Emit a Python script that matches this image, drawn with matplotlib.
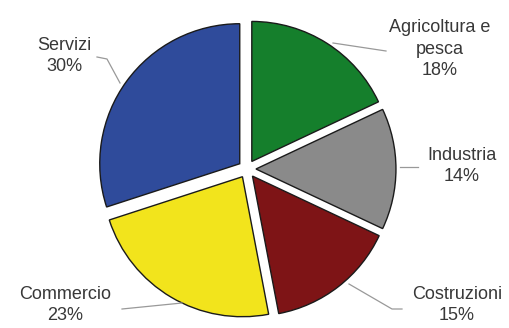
import matplotlib.pyplot as plt

labels = ["Agricoltura e\npesca", "Industria", "Costruzioni", "Commercio", "Servizi"]
values = [18, 14, 15, 23, 30]
colors = ["#157F2C", "#8A8A8A", "#7E1416", "#F2E41C", "#2F4B9B"]

W, H = 510, 328
cx, cy, R = 247, 169, 140

fig = plt.figure(figsize=(W / 100, H / 100), dpi=100)
ax = fig.add_axes([0, 0, 1, 1])

ax.pie(values, colors=colors, startangle=90, counterclock=False,
       explode=[0.064] * len(values), radius=1.0,
       wedgeprops=dict(edgecolor="#1a1a1a", linewidth=1.0))

ax.set_xlim(-cx / R, (W - cx) / R)
ax.set_ylim(-(H - cy) / R, cy / R)
ax.set_aspect("equal")
ax.axis("off")

def px(x, y):
    return ((x - cx) / R, (cy - y) / R)

text_pos = [(440, 49), (462, 166), (457, 305), (65, 305), (64, 56)]
for lab, v, (x, y) in zip(labels, values, text_pos):
    ax.text(*px(x, y), f"{lab}\n{v}%", ha="center", va="center",
            fontsize=13, family="Liberation Sans", color="#383838",
            linespacing=1.38)

leaders = [
    [(333, 43), (386, 51)],
    [(400, 167), (418, 167)],
    [(349, 284), (392, 309), (402, 309)],
    [(122, 309), (182, 303)],
    [(97, 57), (107, 59), (120, 83)],
]
for pts in leaders:
    xs, ys = zip(*[px(x, y) for x, y in pts])
    ax.plot(xs, ys, color="#999999", lw=0.9)

fig.savefig("out.png", dpi=100)
